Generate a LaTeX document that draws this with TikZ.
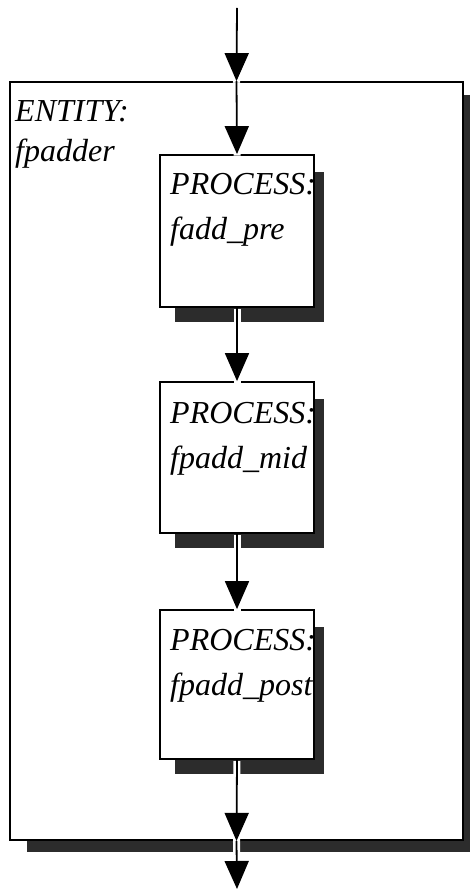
\documentclass[tikz,border=0pt]{standalone}
\usepackage{fontspec}
\setmainfont{Liberation Serif}
\usetikzlibrary{arrows.meta}
\definecolor{shade}{HTML}{2C2C2C}
\tikzset{
  box/.style={draw=black, line width=1.8pt, fill=white, inner sep=0pt},
  shadowbox/.style={fill=shade, draw=none},
  lbl/.style={anchor=base west, inner sep=0pt, font=\fontsize{32}{38}\selectfont\itshape},
  conn/.style={draw=black, line width=1.8pt, -{Triangle[length=28pt,width=24pt]},
    preaction={draw=white, line width=7pt, -, shorten >=-1.5pt, shorten <=1.2pt}},
}
\begin{document}
\begin{tikzpicture}[x=1pt,y=-1pt]
\useasboundingbox (0,0) rectangle (470,890);
% entity
\fill[shadowbox] (27,95) rectangle (475,852);
\node[box, minimum width=453pt, minimum height=758pt] (e) at (236.5,461) {};
\node[lbl] (et1) at (15,122) {ENTITY:};
\node[lbl] (et2) at (15,162) {fpadder};
% process shadows
\fill[shadowbox] (175,172) rectangle (324,322);
\fill[shadowbox] (175,399) rectangle (324,548);
\fill[shadowbox] (175,627) rectangle (324,774);
% processes
\node[box, minimum width=154pt, minimum height=152pt] (p1) at (237,231) {};
\node[box, minimum width=154pt, minimum height=151pt] (p2) at (237,457.5) {};
\node[box, minimum width=154pt, minimum height=149pt] (p3) at (237,684.5) {};
\begin{scope}
\clip (p1.north west) rectangle (p1.south east);
\node[lbl] (p1a) at (170,195) {PROCESS:};
\node[lbl] (p1b) at (170,240) {fadd\_pre};
\end{scope}
\begin{scope}
\clip (p2.north west) rectangle (p2.south east);
\node[lbl] (p2a) at (170,423) {PROCESS:};
\node[lbl] (p2b) at (170,468) {fpadd\_mid};
\end{scope}
\begin{scope}
\clip (p3.north west) rectangle (p3.south east);
\node[lbl] (p3a) at (170,650) {PROCESS:};
\node[lbl] (p3b) at (170,695) {fpadd\_post};
\end{scope}
% connectors
\coordinate (in) at (237,8);
\coordinate (out) at (237,889);
\draw[conn] (in) -- (e.north);
\draw[conn] (e.north) -- (p1.north);
\draw[conn] (p1.south) -- (p2.north);
\draw[conn] (p2.south) -- (p3.north);
\draw[conn] (p3.south) -- (e.south);
\draw[conn] (e.south) -- (out);
\end{tikzpicture}
\end{document}
